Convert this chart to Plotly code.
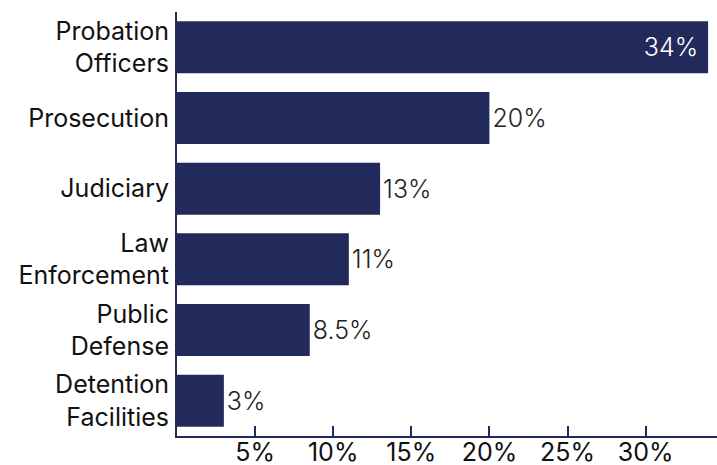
import plotly.graph_objects as go

# Share of respondents by criminal-justice sector
categories = ["Probation<br>Officers", "Prosecution", "Judiciary",
              "Law<br>Enforcement", "Public<br>Defense", "Detention<br>Facilities"]
values = [34, 20, 13, 11, 8.5, 3]
value_labels = ["34%", "20%", "13%", "11%", "8.5%", "3%"]
x_ticks = [5, 10, 15, 20, 25, 30]
x_tick_labels = ["5%", "10%", "15%", "20%", "25%", "30%"]

NAVY = "#222a5c"
FONT = "Inter, Roboto, sans-serif"
SIZE = 25

# the longest bar carries its label inside, the rest sit just past the bar end
positions = ["inside"] + ["outside"] * (len(values) - 1)
bar_text = [t + "\u00a0" if p == "inside" else t for t, p in zip(value_labels, positions)]

fig = go.Figure(go.Bar(
    x=values,
    y=categories,
    orientation="h",
    marker=dict(color=NAVY, line=dict(width=0)),
    text=bar_text,
    textposition=positions,
    insidetextanchor="end",
    insidetextfont=dict(color="white", size=SIZE, family=FONT, weight=300),
    outsidetextfont=dict(color="#222222", size=SIZE, family=FONT, weight=300),
    constraintext="none",
    cliponaxis=False,
    hoverinfo="skip",
))

fig.update_layout(
    width=717,
    height=465,
    margin=dict(l=177, r=0, t=12, b=29),
    paper_bgcolor="white",
    plot_bgcolor="white",
    bargap=0.265,
    showlegend=False,
    font=dict(family=FONT, size=SIZE, color="#111111"),
)

fig.update_xaxes(
    range=[0, 34.57],
    tickvals=x_ticks,
    ticktext=x_tick_labels,
    ticks="inside",
    ticklen=10,
    tickwidth=2,
    tickcolor=NAVY,
    showline=True,
    linecolor=NAVY,
    linewidth=2,
    showgrid=False,
    zeroline=False,
    tickfont=dict(size=SIZE, color="#111111"),
    ticklabelstandoff=-7,
    automargin=False,
    fixedrange=True,
)

fig.update_yaxes(
    categoryorder="array",
    categoryarray=categories,
    autorange="reversed",
    showline=True,
    linecolor=NAVY,
    linewidth=2,
    ticks="",
    ticklabelstandoff=1,
    showgrid=False,
    zeroline=False,
    tickfont=dict(size=SIZE, color="#111111"),
    automargin=False,
    fixedrange=True,
)

fig.write_html("out.html")
